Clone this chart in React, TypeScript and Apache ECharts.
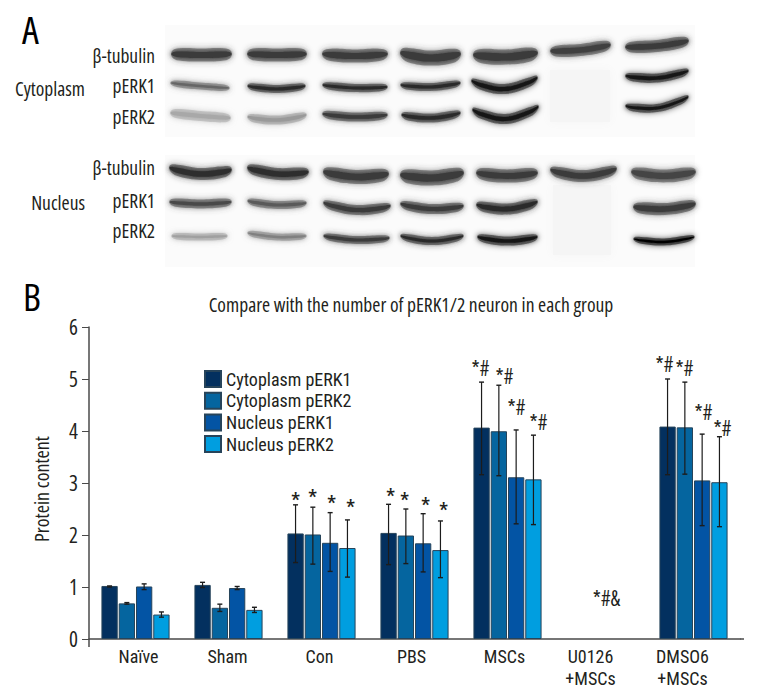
import React, { useEffect, useRef } from "react";
import * as echarts from "echarts";

const FONT = "'Open Sans', 'Noto Sans', sans-serif";
const TIGHT_FONT = "'Roboto Condensed', 'Open Sans', sans-serif";
const INK = "#231f20";
const CONDENSED_CSS = "svg text { font-stretch: 75% !important; }";

const categories = ["Naïve", "Sham", "Con", "PBS", "MSCs", "U0126\n+MSCs", "DMSO6\n+MSCs"];
const labelShift = [3, -1, -2, -3, -3, -10, -11];
const yTicks = [0, 1, 2, 3, 4, 5, 6];

const seriesNames = ["Cytoplasm pERK1", "Cytoplasm pERK2", "Nucleus pERK1", "Nucleus pERK2"];
const seriesColors = ["#03305f", "#05659f", "#0354a4", "#009ee0"];

const cytoPerk1 = [1.02, 1.04, 2.03, 2.04, 4.065, null, 4.085];
const cytoPerk2 = [0.685, 0.6, 2.01, 1.99, 3.995, null, 4.07];
const nucPerk1 = [1.01, 0.98, 1.85, 1.84, 3.11, null, 3.05];
const nucPerk2 = [0.47, 0.56, 1.75, 1.71, 3.07, null, 3.015];

const cytoPerk1Err: (number[] | null)[] = [[1.0, 1.02], [0.99, 1.09], [1.47, 2.58], [1.43, 2.59], [3.16, 4.94], null, [3.16, 5.0]];
const cytoPerk2Err: (number[] | null)[] = [[0.67, 0.7], [0.53, 0.67], [1.44, 2.535], [1.45, 2.5], [3.14, 4.88], null, [3.17, 4.94]];
const nucPerk1Err: (number[] | null)[] = [[0.95, 1.06], [0.95, 1.01], [1.3, 2.43], [1.29, 2.41], [2.215, 4.02], null, [2.18, 3.94]];
const nucPerk2Err: (number[] | null)[] = [[0.42, 0.52], [0.51, 0.61], [1.19, 2.29], [1.18, 2.27], [2.2, 3.92], null, [2.16, 3.89]];

// [category index, value height, horizontal offset from the group centre, text]
const annotations: [number, number, number, string][] = [
  [2, 2.73, -26, "*"], [2, 2.79, -9, "*"], [2, 2.67, 10, "*"], [2, 2.59, 29, "*"],
  [3, 2.8, -24, "*"], [3, 2.73, -10, "*"], [3, 2.63, 11, "*"], [3, 2.54, 29, "*"],
  [4, 5.25, -27, "*#"], [4, 5.09, -3, "*#"], [4, 4.5, 9, "*#"], [4, 4.21, 31, "*#"],
  [5, 0.83, 6, "*#&"],
  [6, 5.32, -29, "*#"], [6, 5.25, -9, "*#"], [6, 4.4, 10, "*#"], [6, 4.09, 29, "*#"],
];

// Western blot picture: x0, x1, yLeft, yMid, yRight, thickness, colour
const blotBands: [number, number, number, number, number, number, string][] = [
  [172, 231, 54, 55, 54, 10, "#3a3a3a"], [248, 306, 54, 55, 54, 10, "#3a3a3a"], [323, 387, 54, 56, 54, 10, "#3a3a3a"],
  [401, 460, 53, 58, 54, 12, "#3a3a3a"], [474, 537, 55, 57, 53, 12, "#3a3a3a"], [551, 610, 51, 50, 45, 9, "#404040"],
  [626, 688, 47, 46, 41, 9, "#3a3a3a"],
  [171, 229, 83, 86, 88, 4, "#666"], [248, 305, 86, 89, 86, 5, "#2a2a2a"], [323, 387, 85, 88, 87, 5, "#2a2a2a"],
  [401, 460, 85, 87, 83, 5, "#2a2a2a"], [472, 537, 81, 89, 78, 7, "#151515"], [626, 688, 76, 78, 71, 6, "#151515"],
  [171, 230, 113, 116, 118, 7, "#a8a8a8"], [248, 306, 117, 120, 115, 6, "#999"], [323, 387, 114, 117, 115, 6, "#3a3a3a"],
  [402, 460, 115, 118, 113, 6, "#2a2a2a"], [473, 538, 110, 119, 107, 7, "#151515"], [626, 688, 106, 108, 97, 5, "#151515"],
  [170, 231, 168, 174, 170, 9, "#2e2e2e"], [248, 308, 168, 174, 172, 9, "#2e2e2e"], [324, 388, 172, 177, 174, 11, "#3a3a3a"],
  [401, 463, 175, 178, 173, 12, "#3a3a3a"], [477, 537, 173, 176, 173, 10, "#3a3a3a"], [551, 616, 170, 176, 169, 9, "#3a3a3a"],
  [632, 695, 172, 176, 172, 10, "#444"],
  [170, 231, 202, 204, 202, 6, "#4a4a4a"], [248, 306, 201, 205, 203, 5, "#5a5a5a"], [324, 390, 203, 210, 206, 7, "#3a3a3a"],
  [401, 463, 204, 209, 206, 7, "#3a3a3a"], [477, 537, 205, 209, 202, 8, "#2a2a2a"], [634, 695, 207, 209, 204, 9, "#3a3a3a"],
  [172, 227, 236, 237, 236, 4, "#a0a0a0"], [248, 306, 233, 237, 236, 4, "#808080"], [324, 389, 236, 240, 238, 5, "#3a3a3a"],
  [401, 463, 236, 241, 236, 5, "#2a2a2a"], [478, 537, 237, 241, 237, 6, "#151515"], [634, 694, 239, 242, 237, 4, "#000"],
];

const blotPanels = [
  { x: 165, y: 25, width: 530, height: 112 },
  { x: 165, y: 155, width: 530, height: 112 },
];
const ghostPanels = [
  { x: 550, y: 70, width: 60, height: 52 },
  { x: 553, y: 185, width: 58, height: 70 },
];

// [text, x, y, align]
const blotLabels: [string, number, number, string][] = [
  ["β-tubulin", 155, 55, "right"], ["pERK1", 155, 85, "right"], ["pERK2", 155, 116, "right"],
  ["Cytoplasm", 85, 88, "right"],
  ["β-tubulin", 155, 167, "right"], ["pERK1", 155, 200, "right"], ["pERK2", 155, 230, "right"],
  ["Nucleus", 85, 202, "right"],
];

const BAR_PITCH = 17.3;

function errorSeries(err: (number[] | null)[], index: number) {
  return {
    type: "custom",
    name: "err" + index,
    silent: true,
    z: 5,
    data: err.map((e, i) => (e ? [i, e[0], e[1]] : null)).filter(Boolean),
    encode: { x: 0, y: [1, 2] },
    renderItem: (_p: any, api: any) => {
      const low = api.coord([api.value(0), api.value(1)]);
      const high = api.coord([api.value(0), api.value(2)]);
      const x = low[0] + (index - 1.5) * BAR_PITCH;
      const line = (x1: number, y1: number, x2: number, y2: number, w: number) => ({
        type: "line",
        shape: { x1, y1, x2, y2 },
        style: { stroke: "#1c1c1c", lineWidth: w },
      });
      return {
        type: "group",
        children: [
          line(x, low[1], x, high[1], 1.2),
          line(x - 2.5, low[1], x + 2.5, low[1], 1.4),
          line(x - 2.5, high[1], x + 2.5, high[1], 1.4),
        ],
      };
    },
  };
}

function bandPolygon(band: (typeof blotBands)[number], thickness: number) {
  const [x0, x1, yL, yM, yR] = band;
  const stops = [0, 0.12, 0.5, 0.88, 1];
  const ends = [0.45, 0.95, 1, 0.95, 0.45];
  const yAt = (t: number) => (1 - t) * (1 - 2 * t) * yL + 4 * t * (1 - t) * yM + t * (2 * t - 1) * yR;
  const top = stops.map((t, i) => [x0 + (x1 - x0) * t, yAt(t) - (thickness / 2) * ends[i]]);
  const bottom = stops.map((t, i) => [x0 + (x1 - x0) * t, yAt(t) + (thickness / 2) * ends[i]]).reverse();
  return [...top, ...bottom];
}

function blotGraphics() {
  const out: any[] = [];
  blotPanels.forEach((p) => out.push({ type: "rect", shape: p, style: { fill: "#fbfbfb" }, silent: true }));
  ghostPanels.forEach((p) =>
    out.push({ type: "rect", shape: p, style: { fill: "#f5f5f5", shadowBlur: 10, shadowColor: "#f5f5f5" }, silent: true })
  );
  blotBands.forEach((band) => {
    const w = band[5];
    const c = band[6];
    out.push({
      type: "polygon",
      shape: { points: bandPolygon(band, w + 3), smooth: 0.4 },
      style: { fill: c, opacity: 0.5, shadowBlur: 6, shadowColor: c },
      silent: true,
    });
    out.push({
      type: "polygon",
      shape: { points: bandPolygon(band, Math.max(2, w * 0.6)), smooth: 0.4 },
      style: { fill: c, shadowBlur: 4, shadowColor: c },
      silent: true,
    });
  });
  blotLabels.forEach(([text, x, y, align]) =>
    out.push({
      type: "text", x, y,
      style: { text, fill: INK, font: `19.5px ${FONT}`, textAlign: align, textVerticalAlign: "middle" },
    })
  );
  out.push({ type: "text", x: 22, y: 29, style: { text: "A", fill: "#000", font: `38px ${FONT}`, textVerticalAlign: "middle" } });
  out.push({ type: "text", x: 23, y: 296, style: { text: "B", fill: "#000", font: `38px ${FONT}`, textVerticalAlign: "middle" } });
  out.push({ type: "line", shape: { x1: 89, y1: 639, x2: 89, y2: 647 }, style: { stroke: "#4a4a4a", lineWidth: 1.5 } });
  out.push({ type: "line", shape: { x1: 740, y1: 639, x2: 744, y2: 639 }, style: { stroke: "#4a4a4a", lineWidth: 1.5 } });
  return out;
}

export default function App() {
  const ref = useRef<HTMLDivElement>(null);
  useEffect(() => {
    const chart = echarts.init(ref.current!, null, { renderer: "svg" });
    const values = [cytoPerk1, cytoPerk2, nucPerk1, nucPerk2];
    const errors = [cytoPerk1Err, cytoPerk2Err, nucPerk1Err, nucPerk2Err];
    chart.setOption({
      animation: false,
      backgroundColor: "#fff",
      textStyle: { fontFamily: FONT, color: INK },
      title: {
        text: "Compare with the number of pERK1/2 neuron in each group",
        left: 406,
        top: 289,
        textAlign: "center",
        textStyle: { fontFamily: FONT, fontSize: 19.6, fontWeight: "normal", color: INK },
      },
      grid: { left: 89, top: 327, width: 651, height: 312 },
      legend: {
        data: seriesNames,
        orient: "vertical",
        icon: "rect",
        left: 204,
        top: 370,
        itemWidth: 16,
        itemHeight: 16,
        itemGap: 3.7,
        padding: 0,
        textStyle: { fontFamily: TIGHT_FONT, fontSize: 18, color: INK },
      },
      xAxis: {
        type: "category",
        data: categories.map((value, i) => ({
          value,
          textStyle: {
            padding: labelShift[i] < 0 ? [0, -2 * labelShift[i], 0, 0] : [0, 0, 0, 2 * labelShift[i]],
          },
        })),
        axisLine: { lineStyle: { color: "#4a4a4a", width: 1.5 } },
        axisTick: { show: false },
        axisLabel: { fontFamily: TIGHT_FONT, fontSize: 18, color: INK, margin: 6, lineHeight: 22 },
      },
      yAxis: {
        type: "value",
        min: yTicks[0],
        max: yTicks[yTicks.length - 1],
        interval: 1,
        name: "Protein content",
        nameLocation: "middle",
        nameGap: 38,
        nameTextStyle: { fontFamily: FONT, fontSize: 20, color: INK, padding: [0, 12, 0, 0] },
        axisLine: { show: true, lineStyle: { color: "#4a4a4a", width: 1.5 } },
        axisTick: { show: true, length: 7, lineStyle: { color: "#4a4a4a", width: 1 } },
        axisLabel: { fontFamily: FONT, fontSize: 21, color: INK, margin: 11 },
        splitLine: { show: false },
      },
      series: [
        ...seriesNames.map((name, i) => ({
          type: "bar",
          name,
          data: values[i],
          barWidth: 16.3,
          barGap: "6%",
          itemStyle: { color: seriesColors[i], borderColor: "#27445a", borderWidth: 1 },
        })),
        ...errors.map((e, i) => errorSeries(e, i)),
        {
          type: "custom",
          name: "annotations",
          silent: true,
          z: 6,
          data: annotations,
          encode: { x: 0, y: 1 },
          renderItem: (_p: any, api: any) => {
            const pos = api.coord([api.value(0), api.value(1)]);
            const item = annotations[_p.dataIndex];
            const size = item[3].length === 1 ? 25 : 21;
            return {
              type: "text",
              x: pos[0] + item[2],
              y: pos[1] + (item[3].length === 1 ? 4 : 2),
              style: { text: item[3], fill: INK, font: `${size}px ${FONT}`, textAlign: "center", textVerticalAlign: "middle" },
            };
          },
        },
      ],
      graphic: blotGraphics(),
    });
    return () => chart.dispose();
  }, []);
  return (
    <>
      <style>{CONDENSED_CSS}</style>
      <div ref={ref} style={{ position: "absolute", left: 0, top: 0, width: 760, height: 700 }} />
    </>
  );
}
